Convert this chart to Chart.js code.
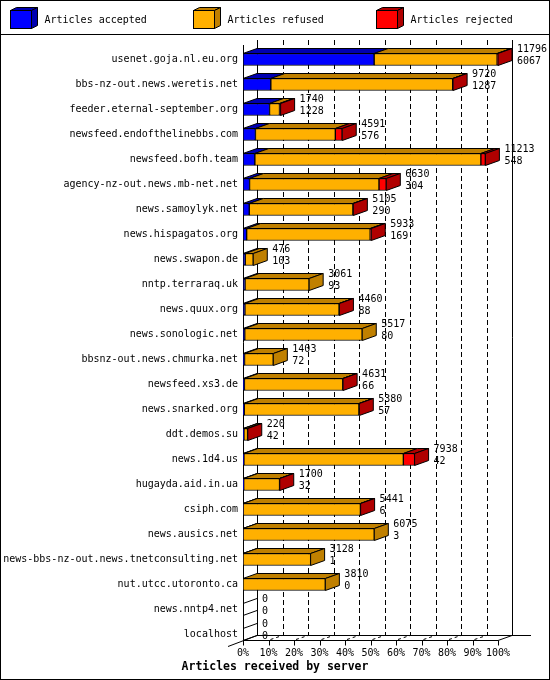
<!DOCTYPE html>
<html><head><meta charset="utf-8">
<script src="https://cdn.jsdelivr.net/npm/chart.js@4.4.1/dist/chart.umd.min.js"></script>
<style>html,body{margin:0;padding:0;background:#fff;}canvas{display:block;}</style>
</head><body>
<div style="width:550px;height:680px"><canvas id="c" width="550" height="680"></canvas></div>
<script>
const servers = [
  'usenet.goja.nl.eu.org','bbs-nz-out.news.weretis.net','feeder.eternal-september.org',
  'newsfeed.endofthelinebbs.com','newsfeed.bofh.team','agency-nz-out.news.mb-net.net',
  'news.samoylyk.net','news.hispagatos.org','news.swapon.de','nntp.terraraq.uk',
  'news.quux.org','news.sonologic.net','bbsnz-out.news.chmurka.net','newsfeed.xs3.de',
  'news.snarked.org','ddt.demos.su','news.1d4.us','hugayda.aid.in.ua','csiph.com',
  'news.ausics.net','news-bbs-nz-out.news.tnetconsulting.net','nut.utcc.utoronto.ca',
  'news.nntp4.net','localhost'
];
const accepted = [6067,1287,1228,576,548,304,290,169,103,93,88,80,72,66,57,42,42,32,6,3,1,0,0,0];
const refused  = [5689,8413,460,3695,10455,5986,4795,5714,373,2968,4357,5437,1331,4550,5308,170,7376,1658,5425,6072,3127,3810,0,0];
const rejected = [40,20,52,320,210,340,20,50,0,0,15,0,0,15,15,8,520,10,10,0,0,0,0,0];
const seriesNames = ['Articles accepted','Articles refused','Articles rejected'];
const tickPercents = [0,10,20,30,40,50,60,70,80,90,100];
const xTitle = 'Articles received by server';

const totals = servers.map((s,i) => accepted[i] + refused[i] + rejected[i]);
const xMax = Math.max(...totals);
const tickValues = tickPercents.map(p => p / 100 * xMax);
const series = [accepted, refused, rejected];

const frontColors = ['#0000FF', '#FFB000', '#FF0000'];
const darkColors  = ['#0000B0', '#C08000', '#B00000'];
const FONT = "10px 'DejaVu Sans Mono', monospace";
const DX = 14, DY = -5;

function line(c, x1, y1, x2, y2) { c.beginPath(); c.moveTo(x1, y1); c.lineTo(x2, y2); c.stroke(); }
function poly(c, pts, fill) {
  c.beginPath(); c.moveTo(pts[0][0], pts[0][1]);
  for (let i = 1; i < pts.length; i++) c.lineTo(pts[i][0], pts[i][1]);
  c.closePath(); c.fillStyle = fill; c.fill(); c.stroke();
}
const px = v => Math.round(v) + 0.5;

const gd3d = {
  id: 'gd3d',
  beforeDraw(chart) {
    const c = chart.ctx;
    c.save();
    c.fillStyle = '#fff'; c.fillRect(0, 0, chart.width, chart.height);
    c.strokeStyle = '#000'; c.lineWidth = 1;
    c.strokeRect(0.5, 0.5, chart.width - 1, chart.height - 1);
    line(c, 0, 34.5, chart.width, 34.5);
    seriesNames.forEach((name, k) => {
      const bx = 10.5 + k * 183, by = 10.5, bw = 21, bh = 18, dx = 6, dy = -3;
      c.fillStyle = frontColors[k];
      c.fillRect(bx, by, bw, bh); c.strokeRect(bx, by, bw, bh);
      poly(c, [[bx, by], [bx + dx, by + dy], [bx + bw + dx, by + dy], [bx + bw, by]], darkColors[k]);
      poly(c, [[bx + bw, by], [bx + bw + dx, by + dy], [bx + bw + dx, by + bh + dy], [bx + bw, by + bh]], darkColors[k]);
      c.fillStyle = '#000'; c.font = FONT; c.textAlign = 'left'; c.textBaseline = 'middle';
      c.fillText(name, bx + 34, 20);
    });
    c.font = "bold 11.5px 'DejaVu Sans Mono', monospace";
    c.textAlign = 'center';
    c.fillText(xTitle, chart.width / 2, 667);
    c.restore();
  },
  beforeDatasetsDraw(chart) {
    const c = chart.ctx, xs = chart.scales.x, a = chart.chartArea;
    const x0 = xs.getPixelForValue(0), x1 = xs.getPixelForValue(xMax);
    const top = a.top - 2, floor = px(a.bottom - 7);
    c.save(); c.strokeStyle = '#000'; c.lineWidth = 1;
    c.setLineDash([5, 3]);
    tickValues.slice(1, -1).forEach(v => {
      const x = px(xs.getPixelForValue(v) + DX);
      line(c, x, top + DY, x, floor + DY);
    });
    c.setLineDash([3, 3]);
    tickValues.slice(1, -1).forEach(v => {
      const x = xs.getPixelForValue(v);
      line(c, x + 2, floor - 1, x + DX, floor + DY);
    });
    c.setLineDash([]);
    line(c, px(x0 + DX), top + DY, px(x0 + DX), floor + DY);
    line(c, px(x1 + DX), top + DY, px(x1 + DX), floor + DY);
    line(c, x0 + DX, floor + DY, x1 + DX + 19, floor + DY);
    line(c, x0, floor, x1, floor);
    line(c, x1, floor, x1 + DX, floor + DY);
    line(c, x0 + DX, floor + DY, x0 - 15, floor + 6);
    line(c, px(x0), top, px(x0), floor);
    tickValues.forEach(v => { const x = px(xs.getPixelForValue(v)); line(c, x, floor, x, floor + 5); });
    c.restore();
  },
  afterDatasetsDraw(chart) {
    const c = chart.ctx, xs = chart.scales.x;
    const metas = series.map((s, k) => chart.getDatasetMeta(k));
    c.save(); c.lineWidth = 1; c.strokeStyle = '#000';
    servers.forEach((s, i) => {
      const els = metas.map(m => m.data[i]);
      const cy = els[0].y, h = els[0].height;
      const topY = cy - h / 2, botY = cy + h / 2;
      let last = -1;
      series.forEach((arr, k) => {
        if (arr[i] > 0) {
          const el = els[k];
          const xa = Math.min(el.base, el.x), xb = Math.max(el.base, el.x);
          poly(c, [[xa, topY], [xa + DX, topY + DY], [xb + DX, topY + DY], [xb, topY]], darkColors[k]);
          last = k;
        }
      });
      const endX = last >= 0 ? els[last].x : xs.getPixelForValue(0);
      if (last >= 0) {
        poly(c, [[endX, topY], [endX + DX, topY + DY], [endX + DX, botY + DY], [endX, botY]], darkColors[last]);
      } else {
        line(c, endX, topY, endX + DX, topY + DY);
        line(c, endX, botY, endX + DX, botY + DY);
      }
      c.fillStyle = '#000'; c.font = FONT; c.textAlign = 'left'; c.textBaseline = 'middle';
      c.fillText(String(totals[i]), endX + DX + 5, cy - 10);
      c.fillText(String(accepted[i]), endX + DX + 5, cy + 1.5);
    });
    c.restore();
  }
};

new Chart(document.getElementById('c'), {
  type: 'bar',
  data: {
    labels: servers,
    datasets: series.map((arr, k) => ({
      label: seriesNames[k],
      data: arr,
      backgroundColor: frontColors[k],
      borderColor: '#000',
      borderWidth: 1,
      borderSkipped: false,
      barThickness: 12
    }))
  },
  options: {
    indexAxis: 'y',
    responsive: false,
    animation: false,
    devicePixelRatio: 1,
    layout: { padding: { top: 47, right: 52, bottom: 19, left: 0 } },
    plugins: { legend: { display: false }, tooltip: { enabled: false }, title: { display: false } },
    scales: {
      x: {
        type: 'linear', stacked: true, min: 0, max: xMax,
        afterBuildTicks: sc => { sc.ticks = tickValues.map(v => ({ value: v })); },
        afterFit: sc => { sc.height = 14; },
        grid: { display: false, drawTicks: false },
        border: { display: false },
        ticks: {
          autoSkip: false, maxRotation: 0, padding: 0, color: '#000',
          font: { family: "'DejaVu Sans Mono', monospace", size: 10 },
          callback: (v, i) => tickPercents[i] + '%'
        }
      },
      y: {
        type: 'category', stacked: true,
        afterFit: sc => { sc.width = 243; },
        grid: { display: false, drawTicks: false },
        border: { display: false },
        ticks: {
          autoSkip: false, padding: 5, color: '#000',
          font: { family: "'DejaVu Sans Mono', monospace", size: 10 }
        }
      }
    }
  },
  plugins: [gd3d]
});
</script>
</body></html>
